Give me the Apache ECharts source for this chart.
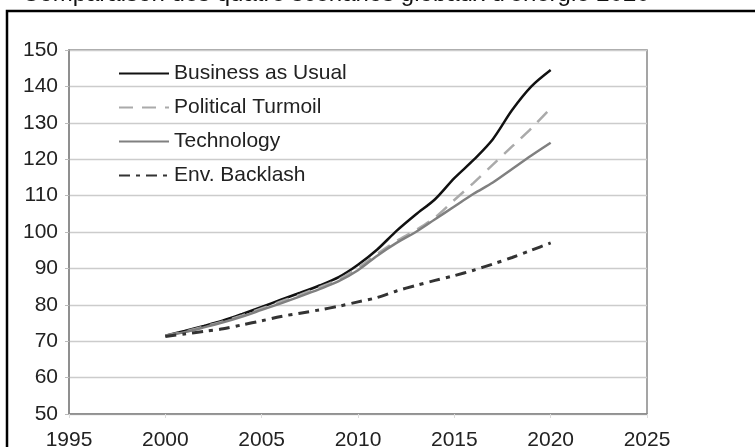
<!DOCTYPE html>
<html>
<head>
<meta charset="utf-8">
<script src="https://cdn.jsdelivr.net/npm/echarts@6/dist/echarts.min.js"></script>
<style>
html,body{margin:0;padding:0;background:#fff;}
#c{width:755px;height:447px;}
</style>
</head>
<body>
<div id="c"></div>
<script>
const titleText = "Comparaison des quatre scénarios globaux d'énergie 2020";
const years = [2000,2001,2002,2003,2004,2005,2006,2007,2008,2009,2010,2011,2012,2013,2014,2015,2016,2017,2018,2019,2020];
const businessAsUsual = [71.5,72.8,74.2,75.7,77.5,79.4,81.4,83.3,85.3,87.6,91.0,95.2,100.3,104.8,109.0,114.8,119.8,125.5,133.5,140.0,144.5];
const politicalTurmoil = [71.5,72.6,74.0,75.4,77.1,79.0,80.9,82.8,84.8,87.0,90.2,94.0,97.5,100.5,104.0,108.8,113.5,118.5,123.5,128.5,134.0];
const technology = [71.5,72.5,73.8,75.2,76.8,78.6,80.4,82.3,84.3,86.5,89.5,93.5,97.0,100.0,103.5,107.0,110.5,113.6,117.3,121.0,124.5];
const envBacklash = [71.3,72.0,72.7,73.4,74.5,75.6,76.8,77.7,78.6,79.6,80.8,82.0,83.8,85.3,86.7,88.0,89.5,91.2,93.0,95.0,97.0];
const seriesNames = ["Business as Usual","Political Turmoil","Technology","Env. Backlash"];

function pairs(vals){ return years.map((y,i)=>[y, vals[i]]); }

const chart = echarts.init(document.getElementById('c'), null, {renderer:'canvas'});
const font = 'Liberation Sans, Arial, sans-serif';
chart.setOption({
  backgroundColor:'#fff',
  animation:false,
  graphic:[
    {type:'text', left:22, top:-18, z:10,
     style:{text:titleText, font:'24px Liberation Sans, Arial, sans-serif', fill:'#111'}},
    {type:'rect', shape:{x:7, y:11, width:900, height:600}, z:10,
     style:{fill:'none', stroke:'#000', lineWidth:2.5}}
  ],
  grid:{left:69, right:108, top:50, bottom:33, show:true, borderColor:'#888', borderWidth:1.5,
        backgroundColor:'#fff', containLabel:false, outerBoundsMode:'none'},
  legend:{
    orient:'vertical', left:113, top:58, itemWidth:50, itemHeight:14, itemGap:13,
    data:seriesNames,
    itemStyle:{opacity:0},
    textStyle:{fontFamily:font, fontSize:21, color:'#222'}
  },
  xAxis:{
    type:'value', min:1995, max:2025, interval:5,
    axisLine:{show:true, lineStyle:{color:'#888', width:1.5}},
    axisTick:{show:true, length:4, lineStyle:{color:'#ddd'}},
    splitLine:{show:false},
    axisLabel:{fontFamily:font, fontSize:21, color:'#222', margin:16, formatter:v=>String(v)}
  },
  yAxis:{
    type:'value', min:50, max:150, interval:10,
    axisLine:{show:true, lineStyle:{color:'#888', width:1.5}},
    axisTick:{show:true, length:4, lineStyle:{color:'#bbb'}},
    splitLine:{show:true, lineStyle:{color:'#ccc', width:1.3}},
    axisLabel:{fontFamily:font, fontSize:21, color:'#222', margin:11}
  },
  series:[
    {name:seriesNames[0], type:'line', data:pairs(businessAsUsual), symbol:'none', smooth:0.3,
     lineStyle:{color:'#111', width:2.5}, itemStyle:{color:'#111'}},
    {name:seriesNames[1], type:'line', data:pairs(politicalTurmoil), symbol:'none', smooth:0.3,
     lineStyle:{color:'#aaa', width:2.5, type:[14,9]}, itemStyle:{color:'#aaa'}},
    {name:seriesNames[2], type:'line', data:pairs(technology), symbol:'none', smooth:0.3,
     lineStyle:{color:'#808080', width:2.5}, itemStyle:{color:'#808080'}},
    {name:seriesNames[3], type:'line', data:pairs(envBacklash), symbol:'none', smooth:0.3,
     lineStyle:{color:'#333', width:3, type:[11,6,4,6]}, itemStyle:{color:'#333'}}
  ]
});
</script>
</body>
</html>
